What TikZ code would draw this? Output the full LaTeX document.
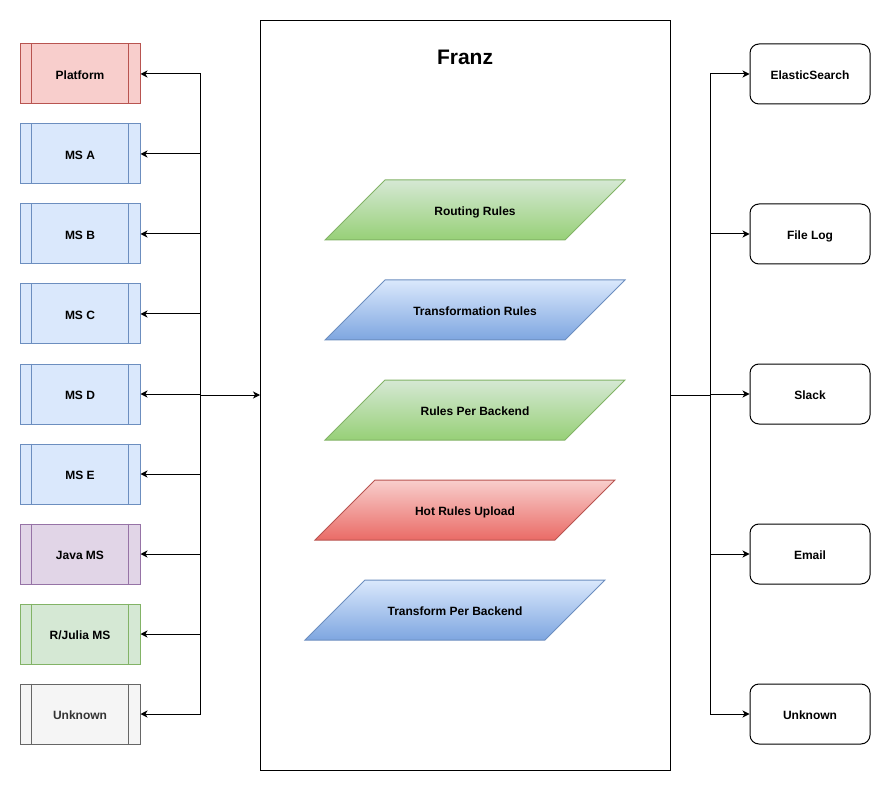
\documentclass[tikz,border=0pt]{standalone}
\usepackage{fontspec}
\setmainfont{Liberation Sans}
\usetikzlibrary{arrows.meta}
\definecolor{redF}{HTML}{F8CECC}\definecolor{redS}{HTML}{B85450}\definecolor{redG}{HTML}{EA6B66}
\definecolor{bluF}{HTML}{DAE8FC}\definecolor{bluS}{HTML}{6C8EBF}\definecolor{bluG}{HTML}{7EA6E0}
\definecolor{grnF}{HTML}{D5E8D4}\definecolor{grnS}{HTML}{82B366}\definecolor{grnG}{HTML}{97D077}
\definecolor{purF}{HTML}{E1D5E7}\definecolor{purS}{HTML}{9673A6}
\definecolor{gryF}{HTML}{F5F5F5}\definecolor{gryS}{HTML}{666666}\definecolor{gryT}{HTML}{333333}
\tikzset{
  lbl/.style={font=\fontsize{12}{14}\selectfont\bfseries},
  txt/.style={lbl, text height=8.6pt, text depth=0pt, inner sep=0pt},
  procbox/.style={draw, line width=1pt, minimum width=120pt, minimum height=60pt, inner sep=0pt},
  outbox/.style={draw, line width=1pt, rounded corners=9pt, minimum width=120pt, minimum height=60pt, inner sep=0pt},
  arr/.style={line width=1pt, -{Stealth[length=7pt,width=7pt,inset=2pt]}},
  conn/.style={line width=1pt},
}
\begin{document}
\begin{tikzpicture}[x=1pt,y=-1pt]
\useasboundingbox (0,0) rectangle (891,791);
% Franz container
\node[draw, line width=1pt, minimum width=410pt, minimum height=750pt, inner sep=0pt, anchor=north west] (franz) at (260,20) {};
\node[font=\fontsize{21}{24}\selectfont\bfseries] (title) at (465,57) {Franz};
% left process boxes
\foreach \n/\t/\f/\s/\c [count=\i] in {
  L1/Platform/redF/redS/black,
  L2/MS A/bluF/bluS/black,
  L3/MS B/bluF/bluS/black,
  L4/MS C/bluF/bluS/black,
  L5/MS D/bluF/bluS/black,
  L6/MS E/bluF/bluS/black,
  L7/Java MS/purF/purS/black,
  L8/{R/Julia MS}/grnF/grnS/black,
  L9/Unknown/gryF/gryS/gryT}{
  \node[procbox, fill=\f, draw=\s] (\n) at (80,{74+80*(\i-1)}) {};
  \node[txt, text=\c] (\n t) at ([yshift=-0.8pt]\n.center) {\t};
  \draw[line width=1pt, draw=\s] ([xshift=12pt]\n.north west) -- ([xshift=12pt]\n.south west)
        ([xshift=-12pt]\n.north east) -- ([xshift=-12pt]\n.south east);
}
% right output boxes
\foreach \n/\t/\y in {R1/ElasticSearch/74, R2/File Log/234, R3/Slack/394, R4/Email/554, R5/Unknown/714}{
  \node[outbox] (\n) at (810,\y) {};
  \node[txt] (\n t) at ([yshift=-0.8pt]\n.center) {\t};
}
% parallelograms
\foreach \n/\t/\x/\y/\f/\g/\s in {
  P1/Routing Rules/325/180/grnF/grnG/grnS,
  P2/Transformation Rules/325/280/bluF/bluG/bluS,
  P3/Rules Per Backend/325/380/grnF/grnG/grnS,
  P4/Hot Rules Upload/315/480/redF/redG/redS,
  P5/Transform Per Backend/305/580/bluF/bluG/bluS}{
  \shade[top color=\f, bottom color=\g, draw=\s, line width=1pt]
    (\x,\y+60) -- (\x+60,\y) -- (\x+300,\y) -- (\x+240,\y+60) -- cycle;
  \node[txt] (\n) at ([yshift=-0.8pt]\x+150,\y+30) {\t};
}
% connectors left
\coordinate (jl) at (200,395);
\foreach \n in {L1,L2,L3,L4,L5,L6,L7,L8,L9}{
  \draw[arr] (jl) |- (\n.east);
}
\draw[arr] (jl) -- (franz.west |- jl);
% connectors right
\coordinate (jr) at (710,395);
\draw[conn] (franz.east |- jr) -- (jr);
\foreach \n in {R1,R2,R3,R4,R5}{
  \draw[arr] (jr) |- (\n.west);
}
\end{tikzpicture}
\end{document}
